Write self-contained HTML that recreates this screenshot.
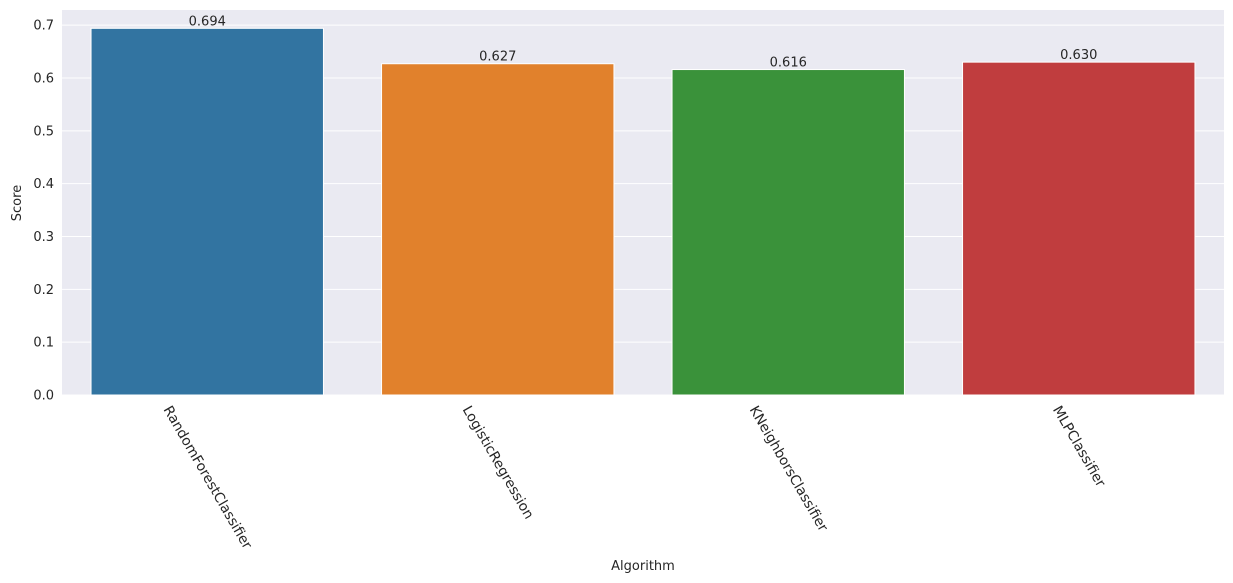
<!DOCTYPE html>
<html><head><meta charset="utf-8"><style>
body{margin:0;background:#fff;}
svg{display:block;font-family:"DejaVu Sans","Liberation Sans",sans-serif;}
</style></head><body>
<svg id="chart" width="1233" height="583" viewBox="0 0 1233 583">
<rect x="62" y="10" width="1162" height="385" fill="#eaeaf2"/>
<g id="grid"></g><g id="bars"></g><g id="labels"></g><g id="ticks"></g>
<text x="21" y="203" font-size="13" fill="#262626" text-anchor="middle" transform="rotate(-90 21 203)">Score</text>
<text x="643" y="570" font-size="13" fill="#262626" text-anchor="middle">Algorithm</text>
</svg>
<script>
const categories=["RandomForestClassifier","LogisticRegression","KNeighborsClassifier","MLPClassifier"];
const scores=[0.694,0.627,0.616,0.630];
const valueLabels=["0.694","0.627","0.616","0.630"];
const colors=["#3274a1","#e1812c","#3a923a","#c03d3e"];
const yTicks=[0,0.1,0.2,0.3,0.4,0.5,0.6,0.7];
const yTickLabels=["0.0","0.1","0.2","0.3","0.4","0.5","0.6","0.7"];

const NS="http://www.w3.org/2000/svg";
const L=62,R=1224,T=10,B=395,yMax=0.7287;
const y=v=>B-v/yMax*(B-T);
const band=(R-L)/categories.length;
const xc=i=>L+band*(i+0.5);
function mk(tag,attrs,parent){const e=document.createElementNS(NS,tag);for(const k in attrs)e.setAttribute(k,attrs[k]);parent.appendChild(e);return e;}
const grid=document.getElementById('grid'),bars=document.getElementById('bars'),labels=document.getElementById('labels'),ticks=document.getElementById('ticks');
yTicks.forEach((v,i)=>{
  const g=mk('line',{x1:L,x2:R,y1:y(v),y2:y(v),stroke:'#fff','stroke-width':1},grid);
  
  
  const t=mk('text',{x:L-8,y:y(v)+4.5,'font-size':13,fill:'#262626','text-anchor':'end'},ticks);
  t.textContent=yTickLabels[i];
  
  
});
categories.forEach((c,i)=>{
  const w=band*0.8;
  const b=mk('rect',{x:xc(i)-w/2,y:y(scores[i]),width:w,height:B-y(scores[i]),fill:colors[i],stroke:'#fff','stroke-width':1},bars);
  
  
  const v=mk('text',{x:xc(i),y:y(scores[i])-3,'font-size':13,fill:'#262626','text-anchor':'middle'},labels);
  v.textContent=valueLabels[i];
  
  
  const t=mk('text',{x:0,y:0,'font-size':13.8,fill:'#262626','text-anchor':'middle','dominant-baseline':'central'},ticks);
  t.textContent=c;
  
  
  const len=t.getComputedTextLength();
  const cy=404+(len*0.866+13*0.5)/2;
  t.setAttribute('x',xc(i));t.setAttribute('y',cy);
  t.setAttribute('transform','rotate(60 '+xc(i)+' '+cy+')');
});
</script>
</body></html>
